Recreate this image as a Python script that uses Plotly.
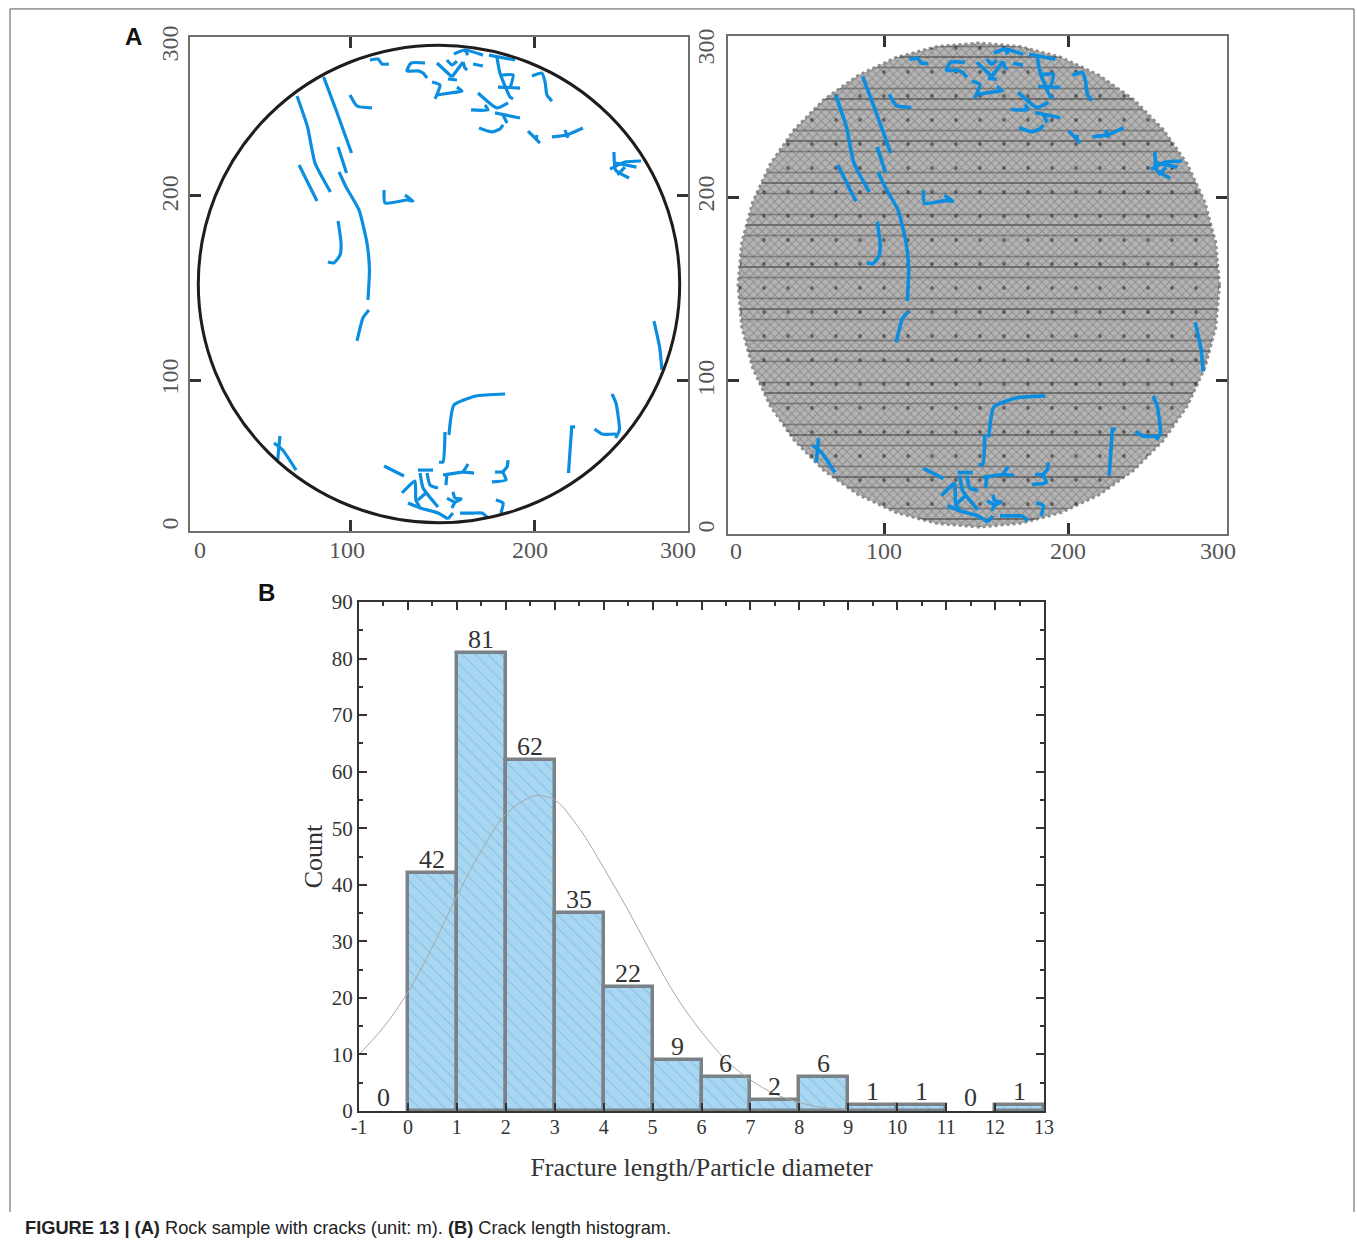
import plotly.graph_objects as go

# ---------- Panel A: crack traces (metres); None separates cracks ----------
crack_x = [108.4,113.3,115.7,119.9,None,
 141.6,133.1,130.7,137.3,140.4,142.8,None,
 148.8,157.8,None, 154.8,157.8,160.8,None, 157.8,164.5,None, 164.5,165.6,167,None, 155.4,160.8,None,
 159,165.6,176.5,None, 165.6,167.5,None, 170.5,176.5,None,
 145.8,150.6,149.4,147.6,None, 148.8,156.6,163.9,160.8,None,
 180.1,195.8,None, 184.9,186.7,192.8,194.6,None, 188,194.6,192.8,None, 185.5,198.8,None,
 206,212,213.9,215,218,None,
 173.5,184.9,191.6,None, 169.3,179.5,177.7,None, 183.7,198.8,None, 188.6,191,None,
 174.1,181.9,186.7,188.6,None,
 203.6,207.8,210.8,None, 209,208.4,None,
 218,227,236.7,None, 225.9,227.7,None,
 96.4,100.6,109.6,None,
 64.5,70.8,75.3,84.6,None,
 80.5,88,97.3,None,
 65.7,76.5,None,
 89.2,94.3,None,
 89.8,94,101.8,106.6,108.1,107.2,None,
 116.9,117.5,130.7,134.3,129.5,None,
 89.2,91,90.4,86.7,83.1,None,
 255.4,256.4,264.5,None, 253,262,271.7,None, 256.4,269,None, 257.5,262,None,
 100.6,104.2,107.8,None,
 279.5,282.9,284.3,None,
 156,159,172.3,189.8,None,
 153.6,152.4,150,None,
 228,229.9,None, 228.9,232,None,
 254.2,256.6,258.7,256.4,None, 243.7,248.2,256.6,None,
 54.2,52.8,None, 50.6,55.8,63.9,None,
 116.9,128.9,None,
 127.7,135.5,136.1,138.6,None, 138.6,140.4,149.4,None, 137.3,146.4,None, 142.8,144.6,149.4,None,
 131.3,138.6,149.4,155.4,None, 137.3,142.8,None,
 152.4,164.5,171.1,None, 164.5,167.5,None, 154.8,154.2,None,
 158.4,159.6,163.3,159.6,154.8,None, 159.6,157.8,None, 158.4,155.4,None,
 162.7,170.5,175.9,179.5,None,
 191.6,191,188.6,190.4,181.9,None, 183.7,188.6,None,
 184.3,188.6,187.3]
crack_y = [286,286.6,283.6,283.6,None,
 284.2,284.2,279.4,279.4,278.1,275.1,None,
 284.2,275.7,None, 286,283,285.4,None, 275.7,284.8,None, 284.8,281.2,280,None, 274.5,273.9,None,
 289.7,292.1,289,None, 292.1,289,None, 283.6,282.4,None,
 272.7,270.9,266.6,262.4,None, 264.8,266,267.2,269.6,None,
 289,286,None, 287.9,278.1,263.6,262.4,None, 276.9,276.9,269,None, 269.6,269,None,
 276.3,278.1,272.7,264.8,261.1,None,
 266,256.9,260,None, 255.7,255.7,258.7,None, 253.9,250.8,None, 252.6,247.8,None,
 244.7,242.3,244.1,246.6,None,
 242.9,238.7,235.6,None, 240.5,237.5,None,
 239.3,240.5,244.7,None, 243.5,238.7,None,
 264.8,258.1,256.9,None,
 264.2,245.4,223.5,205.9,None,
 275.7,255.7,229.6,None,
 222.3,200.4,None,
 233.2,217.4,None,
 218,208.9,195,174.9,158.5,140.3,None,
 207.1,199.2,201,200.4,204,None,
 188.3,174.9,167.6,162.8,163.4,None,
 230.2,219.2,214.4,None, 219.8,224.1,224.7,None, 223.5,221,None, 216.2,221,None,
 115.4,129.4,134.2,None,
 127.5,111.7,97.8,None,
 58.3,76.5,82,83.2,None,
 60.1,41.9,41.9,None,
 35.2,62.6,None, 63.2,63.2,None,
 83.2,77.7,61.3,56.5,None, 61.9,58.9,58.9,None,
 57.7,43.1,None, 53.4,49.2,37,None,
 39.5,33.4,None,
 23.1,30.4,18.8,14,None, 35.2,26.1,14.6,None, 37,37,None, 35.2,27.9,26.1,None,
 17,14,10.9,7.3,None, 18.8,23.7,None,
 34,35.8,35.2,None, 35.8,40.7,None, 35.2,27.9,None,
 23.7,20,19.4,17.6,20,None, 17.6,14,None, 10.9,7.3,None,
 10.9,10.9,10.9,7.9,None,
 43.1,38.9,35.8,31,29.8,None, 35.8,35.8,None,
 18.8,17,10.9]

# outline of the particle assembly (metres)
disc_x = [294,291.8,285.3,274.7,260.3,242.6,222,199.3,175,150,125,100.7,78,57.4,39.7,25.3,14.7,8.2,6,
          8.2,14.7,25.3,39.7,57.4,78,100.7,125,150,175,199.3,222,242.6,260.3,274.7,285.3,291.8,294]
disc_y = [150,175.3,199.8,222.9,243.7,261.7,276.3,287.1,293.6,295.8,293.6,287.1,276.3,261.7,243.7,222.9,199.8,175.3,150,
          124.7,100.2,77.1,56.3,38.3,23.7,12.9,6.4,4.2,6.4,12.9,23.7,38.3,56.3,77.1,100.2,124.7,150]

# tick marks and labels of panel A (the labels sit apart from the ticks in the source)
a_labels = ["0", "100", "200", "300"]
left_xticks = [0, 96.4, 207.8, 300]
left_yticks = [0, 91.7, 204, 300]
left_xlabelpos = [6, 94.6, 204.8, 294]
left_ylabelpos = [2.4, 91.7, 202.9, 293.9]
right_xticks = [0, 93.9, 203.4, 298.5]
right_yticks = [0, 92.2, 203, 300]
right_xlabelpos = [4.8, 93.3, 203.4, 293.1]
right_ylabelpos = [2.4, 92, 203, 291.5]

# ---------- Panel B: histogram ----------
bin_centres = [-0.5,0.5,1.5,2.5,3.5,4.5,5.5,6.5,7.5,8.5,9.5,10.5,11.5,12.5]
counts = [0,42,81,62,35,22,9,6,2,6,1,1,0,1]
curve_x = [-1,-0.5,0,0.5,1,1.5,2,2.5,2.66,3,3.5,4,4.5,5,5.5,6,6.5,7,7.5,8,8.5,9]
curve_y = [10,14.8,21,29,38,46,52.5,55.5,55.8,55,50,43,35.5,27.5,20,14,9,5.5,3,1.5,0.6,0.2]
hist_xticks = [-1,0,1,2,3,4,5,6,7,8,9,10,11,12,13]
hist_xlabels = ["-1","0","1","2","3","4","5","6","7","8","9","10","11","12","13"]

W, H = 1357, 1244
def dx(a, b): return [a / W, b / W]
def dy(top, bottom): return [1 - bottom / H, 1 - top / H]

SERIF = "Liberation Serif"
BLUE = "#0b8de0"
CRACK_LINE = dict(color=BLUE, shape="spline", smoothing=0.5)
fig = go.Figure()

# left panel cracks
fig.add_trace(go.Scatter(x=crack_x, y=crack_y, mode="lines", xaxis="x", yaxis="y",
                         line=dict(width=3.2, **CRACK_LINE), connectgaps=False, hoverinfo="skip"))
# right panel: packed particles then cracks
fig.add_trace(go.Scatter(x=disc_x, y=disc_y, mode="lines", fill="toself", xaxis="x2", yaxis="y2",
                         line=dict(color="#8e8e8e", width=3, dash="dot"),
                         fillpattern=dict(shape="x", size=6, solidity=0.3, fgcolor="#666666", bgcolor="#b4b4b4"),
                         hoverinfo="skip"))
fig.add_trace(go.Scatter(x=disc_x, y=disc_y, mode="none", fill="toself", xaxis="x2", yaxis="y2",
                         fillpattern=dict(shape="-", size=21, solidity=0.08, fgcolor="#4a4a4a", bgcolor="rgba(0,0,0,0)"),
                         hoverinfo="skip"))
fig.add_trace(go.Scatter(x=disc_x, y=disc_y, mode="none", fill="toself", xaxis="x2", yaxis="y2",
                         fillpattern=dict(shape="-", size=42, solidity=0.05, fgcolor="#333333", bgcolor="rgba(0,0,0,0)"),
                         hoverinfo="skip"))
fig.add_trace(go.Scatter(x=disc_x, y=disc_y, mode="none", fill="toself", xaxis="x2", yaxis="y2",
                         fillpattern=dict(shape=".", size=24, solidity=0.02, fgcolor="#111111", bgcolor="rgba(0,0,0,0)"),
                         hoverinfo="skip"))
fig.add_trace(go.Scatter(x=crack_x, y=crack_y, mode="lines", xaxis="x2", yaxis="y2",
                         line=dict(width=3.6, **CRACK_LINE), connectgaps=False, hoverinfo="skip"))
# histogram
fig.add_trace(go.Bar(x=bin_centres, y=counts, width=1, xaxis="x3", yaxis="y3",
                     marker=dict(color="#a9d6f0",
                                 pattern=dict(shape="\\", size=9, solidity=0.12, fgcolor="#5fa8d8", bgcolor="#a9d6f0"),
                                 line=dict(color="#7b8287", width=[0 if c == 0 else 3.5 for c in counts]))))
fig.add_trace(go.Scatter(x=curve_x, y=curve_y, mode="lines", xaxis="x3", yaxis="y3",
                         line=dict(color="#a8a8a8", width=1, shape="spline"), hoverinfo="skip"))
# carriers for the overlay axes
fig.add_trace(go.Scatter(x=[None], y=[None], xaxis="x4", yaxis="y4", showlegend=False))
fig.add_trace(go.Scatter(x=[None], y=[None], xaxis="x5", yaxis="y5", showlegend=False))
fig.add_trace(go.Scatter(x=[None], y=[None], xaxis="x6", yaxis="y3", showlegend=False))

def a_tick_axis(domain, vals, anchor, rng):
    return dict(domain=domain, range=rng, anchor=anchor, tickmode="array", tickvals=vals, ticktext=["", "", "", ""],
                ticks="inside", ticklen=11, tickwidth=2.5, tickcolor="#333333", showgrid=False, zeroline=False,
                showline=True, linecolor="#707070", linewidth=2, mirror="ticks", automargin=False)

def a_label_axis(domain, vals, anchor, over, rng, standoff, angle=0):
    return dict(domain=domain, range=rng, anchor=anchor, overlaying=over, tickmode="array", tickvals=vals,
                ticktext=a_labels, ticks="", showgrid=False, zeroline=False, showline=False,
                tickangle=angle, ticklabelstandoff=standoff, automargin=False,
                tickfont=dict(family=SERIF, size=24, color="#555555"))

left_dx, left_dy = dx(190, 688), dy(37, 531)
right_dx, right_dy = dx(728, 1227), dy(36, 534)

bar_labels = [dict(x=c, y=v, xref="x3", yref="y3", text=str(v), showarrow=False, yanchor="bottom", yshift=-3,
                   font=dict(family=SERIF, size=26, color="#333333"))
              for c, v in zip(bin_centres, counts)]

fig.update_layout(
    width=W, height=H, margin=dict(l=0, r=0, t=0, b=0, pad=0, autoexpand=False), autosize=False,
    paper_bgcolor="white", plot_bgcolor="white", showlegend=False, bargap=0,
    xaxis=a_tick_axis(left_dx, left_xticks, "y", [0, 300]),
    yaxis=a_tick_axis(left_dy, left_yticks, "x", [0, 300]),
    xaxis2=a_tick_axis(right_dx, right_xticks, "y2", [0, 298.5]),
    yaxis2=a_tick_axis(right_dy, right_yticks, "x2", [0, 300]),
    xaxis4=a_label_axis(left_dx, left_xlabelpos, "y4", "x", [0, 300], 2),
    yaxis4=a_label_axis(left_dy, left_ylabelpos, "x4", "y", [0, 300], 6, -90),
    xaxis5=a_label_axis(right_dx, right_xlabelpos, "y5", "x2", [0, 298.5], 0),
    yaxis5=a_label_axis(right_dy, right_ylabelpos, "x5", "y2", [0, 300], 8, -90),
    xaxis3=dict(domain=dx(359, 1044), range=[-1, 13], anchor="y3", tickmode="array", tickvals=hist_xticks,
                ticktext=hist_xlabels,
                ticks="inside", ticklen=8, tickwidth=2, tickcolor="#333333",
                showgrid=False, zeroline=False, showline=True, linecolor="#333333", linewidth=2, mirror="ticks",
                tickfont=dict(family=SERIF, size=20, color="#333333"), automargin=False, ticklabelstandoff=-3,
                title=dict(text="Fracture length/Particle diameter", standoff=21,
                           font=dict(family=SERIF, size=26, color="#333333"))),
    # half-unit ticks only along the top edge of panel B
    xaxis6=dict(domain=dx(359, 1044), range=[-1, 13], anchor="y3", overlaying="x3", side="top",
                tickmode="linear", tick0=-0.5, dtick=1, ticks="inside", ticklen=4, tickwidth=1.5, tickcolor="#333333",
                showticklabels=False, showgrid=False, zeroline=False, showline=False, automargin=False),
    yaxis3=dict(domain=dy(602, 1111), range=[0, 90], anchor="x3", tickmode="linear", tick0=0, dtick=10,
                ticks="inside", ticklen=8, tickwidth=2, tickcolor="#333333",
                minor=dict(dtick=5, tick0=0, ticks="inside", ticklen=4, tickwidth=1.5, tickcolor="#333333"),
                showgrid=False, zeroline=False, showline=True, linecolor="#333333", linewidth=2, mirror="ticks",
                tickfont=dict(family=SERIF, size=21, color="#333333"), automargin=False,
                title=dict(text="Count", standoff=2, font=dict(family=SERIF, size=26, color="#333333"))),
    shapes=[
        dict(type="circle", xref="x", yref="y", x0=5, x1=295, y0=5, y1=295, line=dict(color="#201c1c", width=3)),
        dict(type="path", xref="paper", yref="paper",
             path="M 0.00737 0.0257 L 0.00737 0.9928 L 0.9978 0.9928 L 0.9978 0.0257",
             line=dict(color="#555555", width=1)),
    ],
    annotations=[
        dict(text="<b>A</b>", xref="paper", yref="paper", x=133 / W, y=1 - 36 / H, showarrow=False,
             xanchor="center", yanchor="middle",
             font=dict(family="Liberation Sans", size=24, color="#111111")),
        dict(text="<b>B</b>", xref="paper", yref="paper", x=266 / W, y=1 - 592 / H, showarrow=False,
             xanchor="center", yanchor="middle",
             font=dict(family="Liberation Sans", size=24, color="#111111")),
        dict(text="<b>FIGURE 13 | (A)</b> Rock sample with cracks (unit: m). <b>(B)</b> Crack length histogram.",
             xref="paper", yref="paper", x=23 / W, y=1 - 1227 / H, xanchor="left", yanchor="middle", showarrow=False,
             font=dict(family="Liberation Sans", size=18.25, color="#222222")),
    ] + bar_labels,
)

fig.write_html("out.html", post_script="document.body.style.margin='0';",
               config=dict(displayModeBar=False))
